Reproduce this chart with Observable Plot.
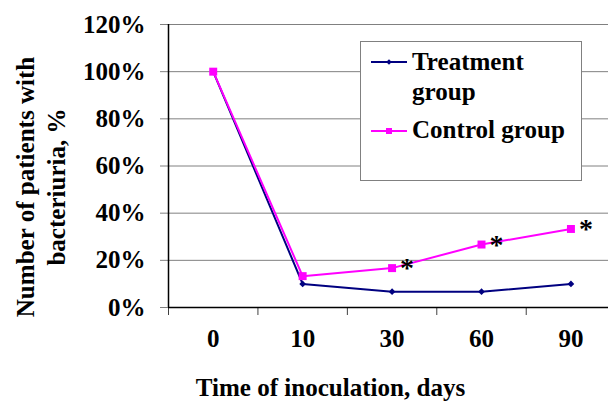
<!DOCTYPE html>
<html><head><meta charset="utf-8">
<script src="https://cdn.jsdelivr.net/npm/d3@7"></script>
<script src="https://cdn.jsdelivr.net/npm/@observablehq/plot@0.6"></script>
<style>body{margin:0;background:#fff;overflow:hidden}</style>
</head><body><div id="chart"></div>
<script>
const days = ["0", "10", "30", "60", "90"];
const treatment = [1.00, 0.10, 0.067, 0.067, 0.10];
const control = [1.00, 0.133, 0.167, 0.267, 0.333];
const significant = [false, false, true, true, true];
const yTicks = [0, 0.2, 0.4, 0.6, 0.8, 1.0, 1.2];
const seriesNames = [["Treatment", "group"], ["Control group"]];
const colors = ["#000080", "#FF00FF"];
const yTitle = "Number of patients with\nbacteriuria, %";
const xTitle = "Time of inoculation, days";

const idx = days.map((_, i) => i);
const bounds = days.map((_, i) => i - 0.5);
const tData = idx.map(i => ({i, v: treatment[i]}));
const cData = idx.map(i => ({i, v: control[i]}));
const stars = cData.filter(d => significant[d.i]);

let pass = 0;
function draw() {
  const fs = 25 + pass * 0.01;
  pass++;
  const chart = Plot.plot({
    width: 608, height: 401,
    marginLeft: 168, marginRight: 0, marginTop: 24, marginBottom: 94,
    style: {fontFamily: "Liberation Serif", fontWeight: "bold", fontSize: fs + "px"},
    x: {type: "linear", domain: [-0.5, 4.42]},
    y: {domain: [0, 1.2]},
    marks: [
      Plot.ruleY(yTicks, {stroke: "#808080", strokeWidth: 1}),
      Plot.axisY({ticks: yTicks, tickSize: 8, tickPadding: 15, stroke: "#808080", fill: "black", tickFormat: d => Math.round(d * 100) + "%", label: null}),
      Plot.axisX({ticks: bounds, tickSize: 8, tickFormat: () => "", stroke: "#404040", label: null}),
      Plot.axisX({ticks: idx, tickSize: 0, tickPadding: 22, tickFormat: i => days[i], fill: "black", label: null}),
      Plot.ruleX([-0.5], {stroke: "black", strokeWidth: 1.5}),
      Plot.ruleY([0], {stroke: "black", strokeWidth: 1.5}),
      Plot.line(tData, {x: "i", y: "v", stroke: colors[0], strokeWidth: 2}),
      Plot.dot(tData, {x: "i", y: "v", symbol: "diamond2", fill: colors[0], r: 3}),
      Plot.line(cData, {x: "i", y: "v", stroke: colors[1], strokeWidth: 2}),
      Plot.dot(cData, {x: "i", y: "v", symbol: "square", fill: colors[1], r: 4.5}),
      Plot.text(stars, {x: "i", y: "v", text: () => "*", textAnchor: "start", dx: 8, dy: 0, fontSize: 28, fill: "black"}),
      Plot.text([yTitle], {frameAnchor: "left", textAnchor: "middle", lineAnchor: "middle", rotate: -90, dx: -129, dy: 21, lineHeight: 1.24, fill: "black"}),
      Plot.text([xTitle], {frameAnchor: "bottom", textAnchor: "middle", lineAnchor: "middle", dx: -58, dy: 80, fill: "black"})
    ]
  });

  // legend
  const svg = d3.select(chart);
  const lg = svg.append("g").attr("text-anchor", "start");
  lg.append("rect").attr("x", 360.5).attr("y", 41.5).attr("width", 221).attr("height", 139)
    .attr("fill", "white").attr("stroke", "#808080");
  const entries = [
    {lines: seriesNames[0], color: colors[0], sym: d3.symbolDiamond2, size: 20, y: 62, base: 70},
    {lines: seriesNames[1], color: colors[1], sym: d3.symbolSquare, size: 36, y: 131, base: 138}
  ];
  entries.forEach(e => {
    lg.append("line").attr("x1", 371).attr("x2", 407).attr("y1", e.y).attr("y2", e.y)
      .attr("stroke", e.color).attr("stroke-width", 2);
    lg.append("path").attr("d", d3.symbol(e.sym, e.size)()).attr("transform", `translate(389,${e.y})`).attr("fill", e.color);
    const t = lg.append("text").attr("x", 412).attr("y", e.base).attr("fill", "black")
      .attr("font-family", "Liberation Serif").attr("font-weight", "bold");
    e.lines.forEach((l, k) => t.append("tspan").attr("x", 412).attr("dy", k ? 30 : 0).text(l));
  });

  const host = document.getElementById("chart");
  host.replaceChildren(chart);
}

draw();
requestAnimationFrame(() => requestAnimationFrame(draw));
setTimeout(draw, 60);
setTimeout(draw, 250);
if (document.fonts) {
  document.fonts.load("bold 25px 'Liberation Serif'").then(draw, () => {});
  document.fonts.ready.then(draw);
}
</script>
</body></html>
